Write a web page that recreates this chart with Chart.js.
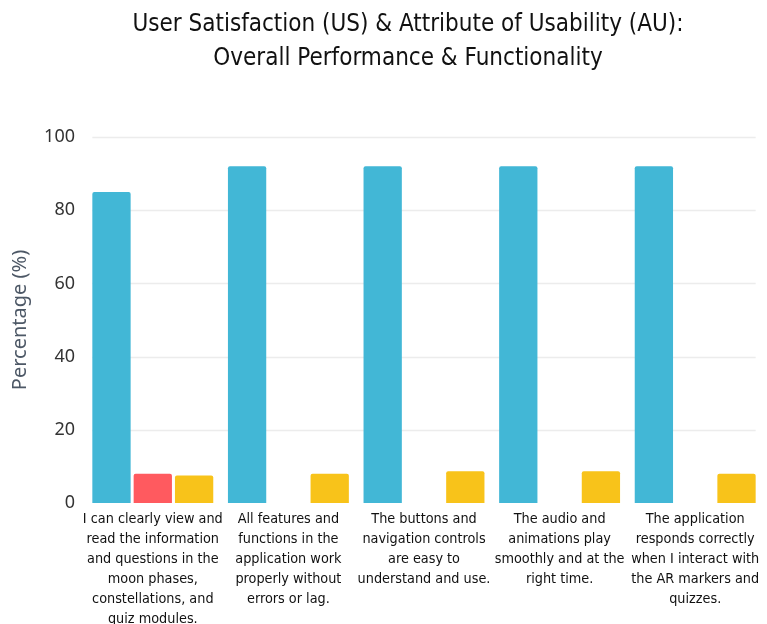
<!DOCTYPE html>
<html>
<head>
<meta charset="utf-8">
<script src="https://cdn.jsdelivr.net/npm/chart.js@4.4.1/dist/chart.umd.min.js"></script>
<style>
  html, body { margin: 0; padding: 0; background: #fff; }
  #wrap { width: 767px; height: 624px; }
</style>
</head>
<body>
<div id="wrap"><canvas id="chart0" width="767" height="624"></canvas></div>
<script>
// categories (x tick labels, already broken into lines)
var categories = [
    ["I can clearly view and", "read the information", "and questions in the", "moon phases,", "constellations, and", "quiz modules."],
    ["All features and", "functions in the", "application work", "properly without", "errors or lag."],
    ["The buttons and", "navigation controls", "are easy to", "understand and use."],
    ["The audio and", "animations play", "smoothly and at the", "right time."],
    ["The application", "responds correctly", "when I interact with", "the AR markers and", "quizzes."]
];

// series values (percent)
var blueValues = [85, 92, 92, 92, 92];
var redValues = [8, 0, 0, 0, 0];
var yellowValues = [7.5, 8, 8.7, 8.7, 8];

var yTicks = [0, 20, 40, 60, 80, 100];

var titleLines = ["User Satisfaction (US) & Attribute of Usability (AU):", "Overall Performance & Functionality"];

var narrow = "'DejaVu Sans Condensed', 'Liberation Sans Narrow', Roboto, sans-serif";

// horizontal grid lines only between the first and last bar, like the original
var gridPlugin = {
    id: 'shortGrid',
    beforeDatasetsDraw: function(chart) {
        var c = chart.ctx;
        var first = chart.getDatasetMeta(0).data[0];
        var lastMeta = chart.getDatasetMeta(chart.data.datasets.length - 1);
        var last = lastMeta.data[lastMeta.data.length - 1];
        var left = first.x - first.width / 2;
        var right = last.x + last.width / 2;
        var y = chart.scales.y;
        c.save();
        c.strokeStyle = '#ececec';
        c.lineWidth = 1.5;
        yTicks.forEach(function(v) {
            if (v === 0) return;
            var py = Math.round(y.getPixelForValue(v)) + 0.5;
            c.beginPath();
            c.moveTo(left, py);
            c.lineTo(right, py);
            c.stroke();
        });
        c.restore();
    }
};

// the original title sits a bit right of the canvas centre, so draw it here
var titlePlugin = {
    id: 'offsetTitle',
    afterDraw: function(chart) {
        var c = chart.ctx;
        var cx = (chart.chartArea.left + chart.chartArea.right) / 2 - 16;
        c.save();
        c.fillStyle = '#111';
        c.font = '24px ' + narrow;
        c.textAlign = 'center';
        c.textBaseline = 'middle';
        c.fillText(titleLines[0], cx, 25);
        c.fillText(titleLines[1], cx, 59);
        c.restore();
    }
};

var ctx = document.getElementById('chart0').getContext('2d');

var chart = new Chart(ctx, {
    type: 'bar',
    data: {
        labels: categories,
        datasets: [{
            label: 'Series 1',
            data: blueValues,
            backgroundColor: '#42b7d6',
            borderRadius: 2
        }, {
            label: 'Series 2',
            data: redValues,
            backgroundColor: '#ff5a5f',
            borderRadius: 2
        }, {
            label: 'Series 3',
            data: yellowValues,
            backgroundColor: '#f8c31a',
            borderRadius: 2
        }]
    },
    options: {
        responsive: false,
        animation: false,
        categoryPercentage: 0.914,
        barPercentage: 0.927,
        layout: { padding: { left: 0, right: 4, top: 137, bottom: 0 } },
        plugins: {
            legend: { display: false },
            tooltip: { enabled: false },
            title: { display: false }
        },
        scales: {
            x: {
                grid: { display: false, drawTicks: false },
                border: { display: false },
                ticks: {
                    color: '#111',
                    maxRotation: 0,
                    autoSkip: false,
                    padding: 6,
                    font: { family: narrow, size: 14.3, lineHeight: 1.4 }
                },
                afterFit: function(scale) { scale.height = 121; }
            },
            y: {
                min: 0,
                max: 100,
                grid: { display: false, drawTicks: false },
                border: { display: false },
                afterBuildTicks: function(scale) {
                    scale.ticks = yTicks.map(function(v) { return { value: v }; });
                },
                ticks: {
                    color: '#333',
                    padding: 10,
                    font: { family: "'Noto Sans', sans-serif", size: 18 }
                },
                title: {
                    display: true,
                    text: 'Percentage (%)',
                    color: '#4d5866',
                    padding: { top: 8, bottom: 0 },
                    font: { family: "'Noto Sans', sans-serif", size: 20 }
                },
                afterFit: function(scale) { scale.width = 85; }
            }
        }
    },
    plugins: [gridPlugin, titlePlugin]
});
</script>
</body>
</html>
